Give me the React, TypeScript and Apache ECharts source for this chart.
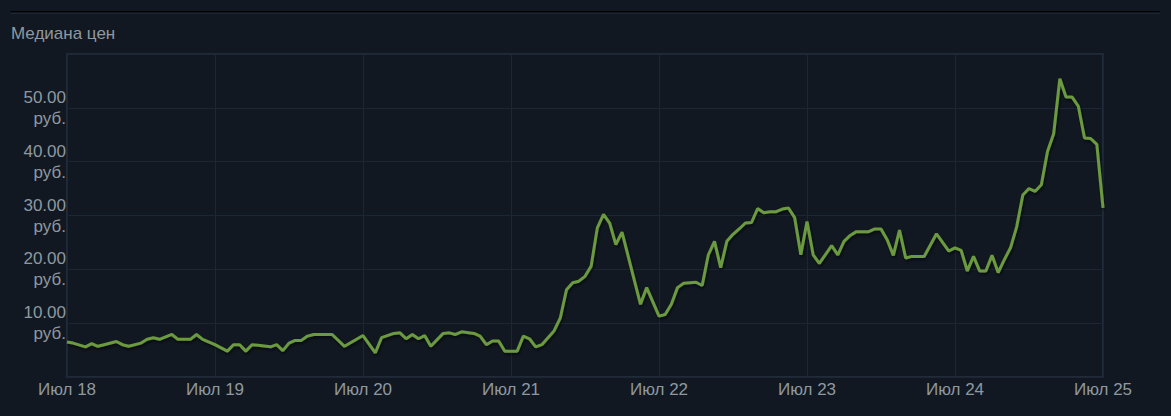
import React, { useEffect, useRef } from "react";
import * as echarts from "echarts";

// hours since "Июл 18" 00:00
const hours = [
  0, 1, 3, 4, 5, 6, 8, 9, 10, 12, 13, 14, 15, 17, 18, 20, 21, 22, 24, 25, 26, 27, 28, 29, 30, 31, 33, 34, 35, 36, 37, 38, 39, 40, 42, 43,
  45, 48, 50, 51, 53, 54, 55, 56, 57, 58, 59, 61, 62, 63, 64, 66, 67, 68, 69, 70, 71, 73, 74, 75, 76, 77, 79,
  80, 81, 82, 83, 84, 85, 86, 87, 88, 89, 90, 93, 94, 96, 97, 98, 99, 100, 102, 103, 104, 105, 106, 107, 108, 109, 110,
  111, 112, 113, 114, 115, 116, 117, 118, 119, 120, 121, 122, 124, 125, 126, 127, 128, 130, 131, 132, 133, 134, 135, 136,
  137, 139, 141, 143, 144, 145, 146, 147, 148, 149, 150, 151, 152, 153, 154, 155, 156, 157, 158, 159, 160, 161, 162, 163,
  164, 165, 166, 167, 168,
];
const prices = [
  6.5, 6.3, 5.6, 6.2, 5.7, 6.0, 6.6, 6.0, 5.7, 6.3, 7.0, 7.3, 7.0, 7.9, 7.0, 7.0, 7.9, 7.0, 6.0, 5.4, 4.8, 6.0, 6.0, 4.8, 6.0, 5.9, 5.6, 6.0, 4.9, 6.3, 6.8, 6.8, 7.6, 7.9, 7.9, 7.9,
  5.7, 7.7, 4.5, 7.3, 8.1, 8.2, 7.1, 7.9, 7.1, 7.7, 5.7, 8.1, 8.2, 7.9, 8.4, 8.1, 7.6, 6.0, 6.7, 6.7, 4.8, 4.8, 7.6, 7.1, 5.6, 6.0, 8.6,
  11.0, 16.2, 17.5, 17.8, 18.7, 20.6, 27.7, 30.2, 28.6, 24.6, 26.9, 13.5, 16.6, 11.3, 11.6, 13.5, 16.6, 17.4, 17.6, 17.0, 22.7, 25.2, 20.3, 25.2, 26.5, 27.5, 28.6,
  28.7, 31.3, 30.5, 30.7, 30.7, 31.2, 31.4, 29.6, 22.7, 28.9, 22.7, 21.1, 24.4, 22.7, 25.2, 26.3, 27.0, 27.0, 27.5, 27.5, 25.5, 22.6, 27.3, 22.1,
  22.4, 22.4, 26.6, 23.4, 24.0, 23.5, 19.7, 22.4, 19.7, 19.7, 22.6, 19.4, 21.8, 24.0, 27.9, 33.8, 35.0, 34.5, 35.7, 41.9, 45.2, 55.4, 52.0, 52.0,
  50.3, 44.4, 44.3, 43.2, 31.4,
];
const xTickLabels = ["Июл 18", "Июл 19", "Июл 20", "Июл 21", "Июл 22", "Июл 23", "Июл 24", "Июл 25"];
const titleText = "Медиана цен";
const currency = "руб.";

const BG = "#111821";
const FONT = "Arial, 'Liberation Sans', sans-serif";
const LABEL = "#8f98a0";

export default function App() {
  const ref = useRef<HTMLDivElement>(null);
  useEffect(() => {
    if (!ref.current) return;
    const chart = echarts.init(ref.current, undefined, { renderer: "svg" });
    const data = hours.map((h, i) => [h, prices[i]]);
    chart.setOption({
      animation: false,
      backgroundColor: BG,
      textStyle: { fontFamily: FONT },
      graphic: [
        { type: "rect", shape: { x: 11, y: 11, width: 1149, height: 1 }, style: { fill: "#000000" } },
        { type: "rect", shape: { x: 11, y: 13, width: 1149, height: 1 }, style: { fill: "#1c2632" } },
        {
          type: "text",
          x: 11,
          y: 33,
          style: { text: titleText, fill: LABEL, font: `17px ${FONT}`, verticalAlign: "middle" },
        },
      ],
      grid: {
        left: 67,
        right: 68,
        top: 54,
        bottom: 39,
        show: true,
        borderColor: "#1f2b38",
        borderWidth: 2,
        backgroundColor: "transparent",
      },
      xAxis: {
        type: "value",
        min: 0,
        max: 168,
        interval: 24,
        axisLine: { show: false },
        axisTick: { show: false },
        splitLine: { show: true, lineStyle: { color: "#1c2733", width: 1 } },
        axisLabel: {
          color: LABEL,
          fontSize: 17,
          fontFamily: FONT,
          margin: 4,
          formatter: (v: number) => xTickLabels[Math.round(v / 24)] ?? "",
        },
      },
      yAxis: {
        type: "value",
        min: 0,
        max: 60,
        interval: 10,
        axisLine: { show: false },
        axisTick: { show: false },
        splitLine: { show: true, lineStyle: { color: "#1c2733", width: 1 } },
        axisLabel: {
          color: LABEL,
          fontSize: 17,
          fontFamily: FONT,
          lineHeight: 21,
          margin: 1,
          align: "right",
          formatter: (v: number) => (v === 0 || v === 60 ? "" : `${v.toFixed(2)}\n${currency}`),
        },
      },
      series: [
        {
          type: "line",
          data,
          showSymbol: false,
          symbol: "none",
          lineStyle: {
            color: "#6c9a3f",
            width: 3,
            shadowColor: "rgba(0,0,0,0.55)",
            shadowBlur: 3,
            shadowOffsetX: 1,
            shadowOffsetY: 2,
          },
        },
      ],
    });
    return () => chart.dispose();
  }, []);
  return (
    <div
      ref={ref}
      style={{ position: "fixed", left: 0, top: 0, width: 1171, height: 416, background: BG }}
    />
  );
}
